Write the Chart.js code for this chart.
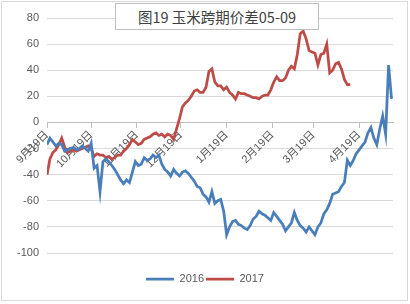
<!DOCTYPE html>
<html>
<head>
<meta charset="utf-8">
<script src="https://cdn.jsdelivr.net/npm/chart.js@4.4.1/dist/chart.umd.min.js"></script>
<style>
  html, body { margin: 0; padding: 0; background: #fff; }
  #wrap { position: relative; width: 410px; height: 304px; }
  #frame {
    position: absolute; left: 1px; top: 1px; width: 407px; height: 300px;
    box-sizing: border-box; border: 1px solid #d9d9d9; pointer-events: none;
  }
  #title {
    position: absolute; left: 115px; top: 3px; width: 204px; height: 27px;
    box-sizing: border-box; border: 1px solid #bfbfbf; background: #fff;
    font: 14.5px 'Noto Sans CJK SC', sans-serif; color: #404040;
    text-align: center; line-height: 25px;
  }
</style>
</head>
<body>
<div id="wrap">
  <canvas id="chart" width="410" height="304"></canvas>
  <div id="frame"></div>
  <div id="title">图19 玉米跨期价差05-09</div>
</div>
<script>
// ---- data ----
// x: calendar days since 9月19日, one value every 2 days
const stepDays = 2;
const tickDays = [0, 30, 61, 91, 122, 153, 181, 212];
const tickLabels = ['9月19日', '10月19日', '11月19日', '12月19日', '1月19日', '2月19日', '3月19日', '4月19日'];
const yTicks = [80, 60, 40, 20, 0, -20, -40, -60, -80, -100];

const values2016 = [
  -17, -12, -15, -18, -16, -17, -22, -21, -20, -19,
  -21, -20, -18, -20, -22, -16, -35, -33, -53, -30,
  -28, -30, -33, -36, -40, -44, -47, -44, -46, -38,
  -30, -33, -32, -27, -29, -28, -25, -27, -25, -32,
  -36, -38, -41, -36, -39, -41, -38, -37, -39, -42,
  -45, -49, -50, -55, -57, -61, -53, -62, -60, -59,
  -68, -86, -80, -76, -75, -78, -79, -81, -82, -79,
  -74, -72, -68, -70, -71, -73, -75, -69, -72, -75,
  -78, -83, -80, -77, -69, -75, -79, -81, -84, -80,
  -83, -86, -80, -77, -70, -67, -62, -55, -54, -53,
  -49, -46, -29, -33, -29, -24, -21, -18, -15, -8,
  -4, -12, -17, -5, 5, -9, 44, 18
];

const values2017 = [
  -40, -28, -23, -21, -17, -12, -19, -23, -22, -21,
  -22, -21, -20, -19, -18, -20, -26, -24, -25, -25,
  -27, -26, -28, -27, -25, -25, -22, -20, -17, -13,
  -15, -17, -16, -13, -12, -11, -9, -8, -10, -9,
  -11, -9, -10, -13, -5, 3, 12, 15, 17, 20,
  24, 25, 23, 23, 27, 39, 41, 31, 28, 28,
  25, 27, 23, 21, 18, 23, 22, 22, 21, 20,
  19, 19, 18, 20, 21, 21, 25, 31, 35, 32,
  32, 34, 40, 43, 41, 52, 68, 70, 64, 55,
  54, 53, 44, 52, 53, 60, 38, 40, 45, 46,
  41, 33, 29, 29
];

const toPoints = arr => arr.map((v, i) => ({ x: i * stepDays, y: v }));

const axisFont = { family: "'Liberation Sans', 'Noto Sans CJK SC', sans-serif", size: 11 };

new Chart(document.getElementById('chart'), {
  type: 'line',
  data: {
    datasets: [
      {
        label: '2016',
        data: toPoints(values2016),
        borderColor: '#4a7ebb',
        backgroundColor: '#4a7ebb',
        borderWidth: 2.75,
        pointRadius: 0,
        tension: 0,
        xAxisID: 'x',
        yAxisID: 'y'
      },
      {
        label: '2017',
        data: toPoints(values2017),
        borderColor: '#be4b48',
        backgroundColor: '#be4b48',
        borderWidth: 2.75,
        pointRadius: 0,
        tension: 0,
        xAxisID: 'x',
        yAxisID: 'y'
      }
    ]
  },
  options: {
    responsive: false,
    animation: false,
    layout: { padding: { left: 0, right: 0, top: 18, bottom: 9.5 } },
    plugins: {
      legend: {
        position: 'bottom',
        labels: {
          usePointStyle: true,
          pointStyle: 'line',
          pointStyleWidth: 28,
          padding: 2,
          color: '#595959',
          font: axisFont
        }
      },
      tooltip: { enabled: false }
    },
    scales: {
      x: {
        type: 'linear',
        position: { y: 0 },
        min: 0,
        max: 235,
        afterBuildTicks: s => { s.ticks = tickDays.map(v => ({ value: v })); },
        ticks: {
          autoSkip: false,
          minRotation: 45,
          maxRotation: 45,
          padding: 1,
          color: '#595959',
          font: axisFont,
          callback: (v, i) => tickLabels[i]
        },
        grid: { drawOnChartArea: false, drawTicks: true, tickLength: 5, color: '#bfbfbf' },
        border: { display: true, color: '#bfbfbf' }
      },
      y: {
        type: 'linear',
        position: 'left',
        min: -100,
        max: 80,
        afterBuildTicks: s => { s.ticks = yTicks.map(v => ({ value: v })); },
        afterFit: s => { s.width = 47; },
        ticks: { padding: 8, color: '#595959', font: axisFont },
        grid: { color: '#d9d9d9', drawTicks: false },
        border: { display: false }
      },
      padBottom: {
        axis: 'x',
        type: 'linear',
        position: 'bottom',
        grid: { display: false },
        ticks: { display: false },
        border: { display: false },
        afterFit: s => { s.height = 18.5; }
      },
      padRight: {
        axis: 'y',
        type: 'linear',
        position: 'right',
        grid: { display: false },
        ticks: { display: false },
        border: { display: false },
        afterFit: s => { s.width = 17; }
      }
    }
  }
});
</script>
</body>
</html>
